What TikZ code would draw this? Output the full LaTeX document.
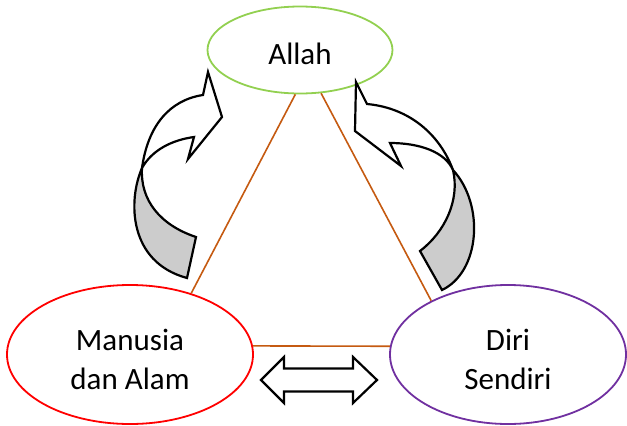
\documentclass[tikz,border=0pt]{standalone}
\usepackage{fontspec}
\setmainfont{Carlito}
\usetikzlibrary{shapes.geometric}
\definecolor{allahgreen}{HTML}{92D050}
\definecolor{alamred}{HTML}{FF0000}
\definecolor{diripurple}{HTML}{7030A0}
\definecolor{linkorange}{HTML}{C55A11}
% taller first line, pushes the text a bit down in its ellipse
\newcommand{\lift}[1]{\rule{0pt}{#1pt}}
\begin{document}
\begin{tikzpicture}[x=1pt,y=-1pt,
  circ/.style={ellipse, draw, line width=1.8pt, inner sep=0pt, align=center,
    font=\fontsize{31}{39}\selectfont},
  link/.style={draw=linkorange, line width=1.6pt},
  turn/.style={draw=black, line width=2.2pt, line join=miter}]
\useasboundingbox (0,0) rectangle (627,426);
% the three ellipses
\node[circ, draw=allahgreen, minimum width=185, minimum height=87] (allah) at (300,50) {\lift{29}Allah};
\node[circ, draw=alamred, minimum width=246, minimum height=139] (alam) at (130,354.5) {\lift{31}Manusia\\dan Alam};
\node[circ, draw=diripurple, minimum width=236, minimum height=139] (diri) at (508,354.5) {\lift{31}Diri\\Sendiri};
% triangle between them
\draw[link] (allah.264) -- (alam.45);
\draw[link] (allah.296) -- (diri.145);
\draw[link] (alam.4) -- (diri.176);
% curved arrows, back part grey and front part white
\def\leftback{(187,278) .. controls (128,262) and (128,200) .. (142,168)
  .. controls (140,200) and (160,225) .. (196,237) -- cycle}
\def\leftfront{(142,168) .. controls (148,125) and (170,100) .. (203,95)
  -- (208,72) -- (222,117) -- (188,159) -- (194,137)
  .. controls (172,140) and (152,150) .. (142,168) -- cycle}
\def\rightback{(442,290) .. controls (480,272) and (485,205) .. (453,170)
  .. controls (460,200) and (445,232) .. (420,251) -- cycle}
\def\rightfront{(453,170) .. controls (440,135) and (410,108) .. (367,104)
  -- (356,82) -- (355,131) -- (401,166) -- (390,143)
  .. controls (420,143) and (445,152) .. (453,170) -- cycle}
\filldraw[turn, fill=gray!40] \leftback;
\filldraw[turn, fill=white] \leftfront;
\filldraw[turn, fill=gray!40] \rightback;
\filldraw[turn, fill=white] \rightfront;
% double arrow at the bottom
\filldraw[turn, fill=white] (261,380) -- (284,357) -- (284,368.5) -- (353,368.5)
  -- (353,357) -- (377,380) -- (353,403) -- (353,391.5) -- (284,391.5)
  -- (284,403) -- cycle;
\end{tikzpicture}
\end{document}
